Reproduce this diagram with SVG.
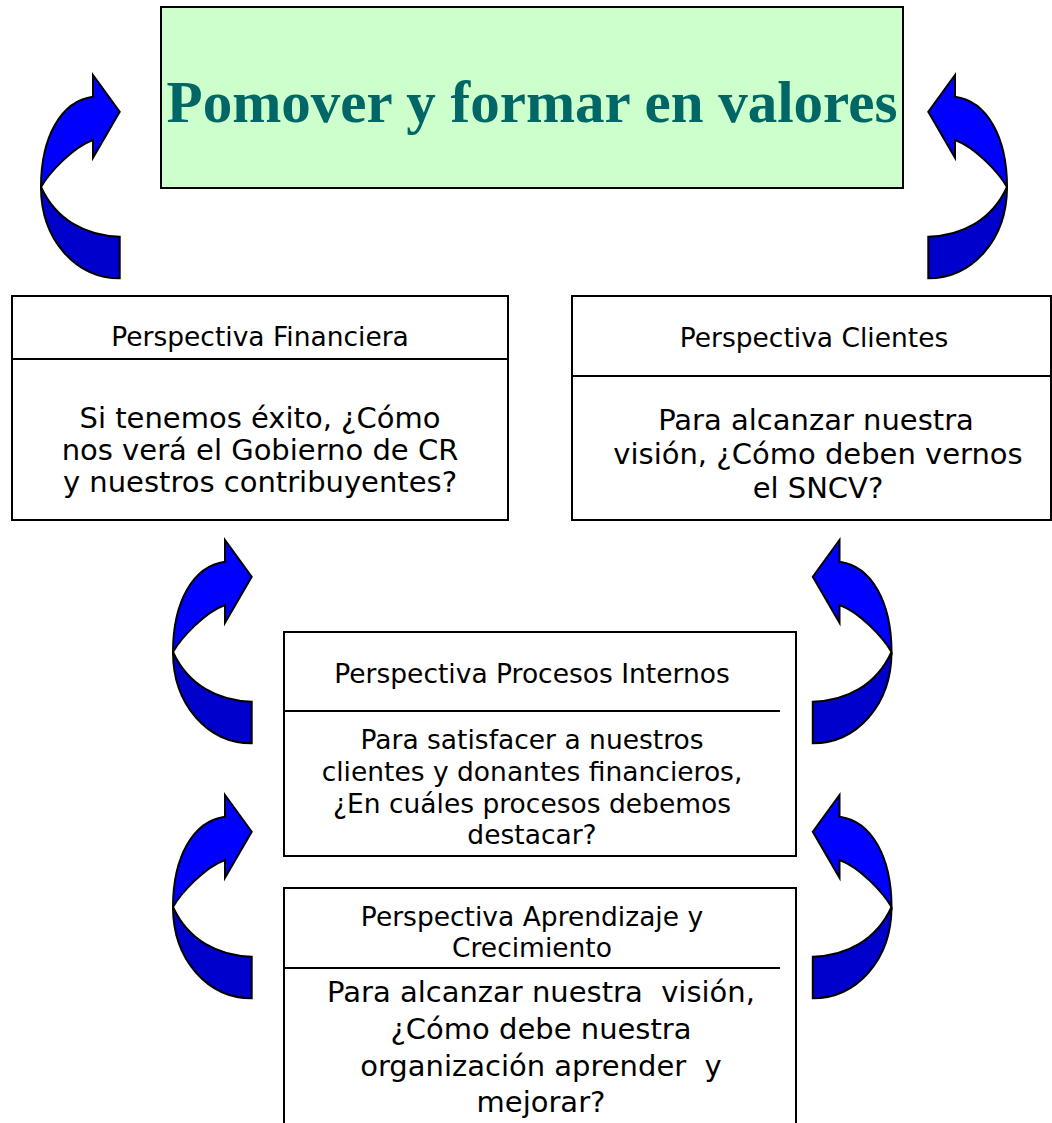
<svg xmlns="http://www.w3.org/2000/svg" xmlns:xlink="http://www.w3.org/1999/xlink" width="1052" height="1123" viewBox="0 0 1052 1123">
  <style>
    .box { fill: #ffffff; stroke: #000000; stroke-width: 2; }
    .div { stroke: #000000; stroke-width: 2; fill: none; }
    .t { font-family: "DejaVu Sans", Verdana, sans-serif; fill: #000000; text-anchor: middle; }
    .h { font-size: 26.5px; }
    .b { font-size: 29px; }
    .bs { font-size: 26.5px; }
    .up { fill: #0000FF; stroke: #000000; stroke-width: 2; stroke-linejoin: miter; }
    .lo { fill: #0000CC; stroke: #000000; stroke-width: 2; }
  </style>
  <defs>
    <g id="carrow">
      <path class="lo" d="M0,112 C0,165 35,203.3 78.7,203.3 L78.7,161.7 C45,161 15,145 0,112 Z"/>
      <path class="up" d="M52,21.7 L52,0 L78.7,36.7 L52,82.7 L52,65 C32,72 8,98 0,112 C0,62 20,26 52,21.7 Z"/>
    </g>
  </defs>
  <rect width="1052" height="1123" fill="#ffffff"/>

  <g id="title">
    <rect x="161" y="7" width="742" height="181" fill="#CCFFCC" stroke="#000000" stroke-width="2"/>
    <text x="532" y="122" font-family="'Liberation Serif', 'Times New Roman', serif" font-weight="bold" font-size="59" fill="#006666" text-anchor="middle">Pomover y formar en valores</text>
  </g>

  <g id="financiera">
    <rect class="box" x="12" y="296" width="496" height="224"/>
    <line class="div" x1="12" y1="359" x2="508" y2="359"/>
    <text class="t h" x="260" y="346">Perspectiva Financiera</text>
    <text class="t b" x="260" y="428">Si tenemos éxito, ¿Cómo</text>
    <text class="t b" x="260" y="460">nos verá el Gobierno de CR</text>
    <text class="t b" x="260" y="492">y nuestros contribuyentes?</text>
  </g>

  <g id="clientes">
    <rect class="box" x="572" y="296" width="479" height="224"/>
    <line class="div" x1="572" y1="376" x2="1051" y2="376"/>
    <text class="t h" x="814" y="347">Perspectiva Clientes</text>
    <text class="t b" x="816" y="430">Para alcanzar nuestra</text>
    <text class="t b" x="818" y="464">visión, ¿Cómo deben vernos</text>
    <text class="t b" x="818" y="498">el SNCV?</text>
  </g>

  <g id="procesos">
    <rect class="box" x="284" y="632" width="512" height="224"/>
    <line class="div" x1="284" y1="711" x2="780" y2="711"/>
    <text class="t h" x="532" y="683">Perspectiva Procesos Internos</text>
    <text class="t bs" x="532" y="749">Para satisfacer a nuestros</text>
    <text class="t bs" x="532" y="781">clientes y donantes financieros,</text>
    <text class="t bs" x="532" y="813">¿En cuáles procesos debemos</text>
    <text class="t bs" x="532" y="844">destacar?</text>
  </g>

  <g id="aprendizaje">
    <rect class="box" x="284" y="888" width="512" height="250"/>
    <line class="div" x1="284" y1="968" x2="780" y2="968"/>
    <text class="t h" x="532" y="926">Perspectiva Aprendizaje y</text>
    <text class="t h" x="532" y="957">Crecimiento</text>
    <text class="t b" x="541" y="1002" font-size="29.5" xml:space="preserve">Para alcanzar nuestra  visión,</text>
    <text class="t b" x="541" y="1039">¿Cómo debe nuestra</text>
    <text class="t b" x="541" y="1076" xml:space="preserve">organización aprender  y</text>
    <text class="t b" x="541" y="1112">mejorar?</text>
  </g>

  <g id="connectors">
    <use xlink:href="#carrow" href="#carrow" transform="translate(41,75)"/>
    <use xlink:href="#carrow" href="#carrow" transform="translate(1007,75) scale(-1,1)"/>
    <use xlink:href="#carrow" href="#carrow" transform="translate(173,540)"/>
    <use xlink:href="#carrow" href="#carrow" transform="translate(891.5,540) scale(-1,1)"/>
    <use xlink:href="#carrow" href="#carrow" transform="translate(173,795)"/>
    <use xlink:href="#carrow" href="#carrow" transform="translate(891.5,795) scale(-1,1)"/>
  </g>
</svg>
